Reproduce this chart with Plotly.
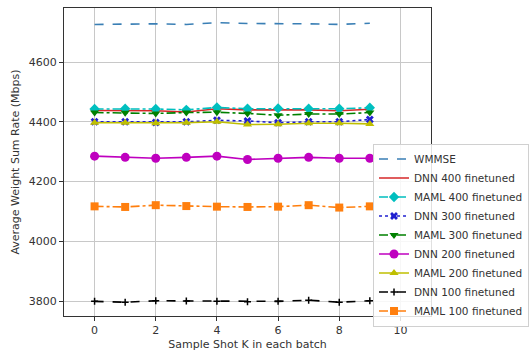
import plotly.graph_objects as go

k_values = list(range(10))

wmmse = [4726, 4728, 4728, 4726, 4732, 4729, 4729, 4728, 4726, 4730]
dnn_400 = [4438, 4437, 4437, 4433, 4444, 4440, 4440, 4440, 4437, 4442]
maml_400 = [4443, 4444, 4443, 4440, 4448, 4444, 4445, 4444, 4444, 4447]
dnn_300 = [4400, 4400, 4398, 4400, 4405, 4403, 4397, 4400, 4400, 4408]
maml_300 = [4431, 4430, 4428, 4431, 4432, 4428, 4422, 4426, 4426, 4431]
dnn_200 = [4285, 4281, 4278, 4281, 4285, 4274, 4278, 4281, 4278, 4278]
maml_200 = [4397, 4397, 4395, 4397, 4400, 4391, 4392, 4395, 4395, 4393]
dnn_100 = [3799, 3796, 3801, 3800, 3799, 3798, 3799, 3803, 3796, 3801]
maml_100 = [4117, 4115, 4121, 4118, 4116, 4115, 4116, 4121, 4113, 4117]

x_ticks = [0, 2, 4, 6, 8, 10]
y_ticks = [3800, 4000, 4200, 4400, 4600]

series = [
    ("WMMSE", wmmse, "#3a7fb5", "dash", None),
    ("DNN 400 finetuned", dnn_400, "#d62728", "solid", None),
    ("MAML 400 finetuned", maml_400, "#00bfbf", "dashdot", "diamond"),
    ("DNN 300 finetuned", dnn_300, "#2020d0", "dot", "x"),
    ("MAML 300 finetuned", maml_300, "#008000", "dashdot", "triangle-down"),
    ("DNN 200 finetuned", dnn_200, "#bf00bf", "solid", "circle"),
    ("MAML 200 finetuned", maml_200, "#bfbf00", "solid", "triangle-up"),
    ("DNN 100 finetuned", dnn_100, "#000000", "dash", "cross-thin"),
    ("MAML 100 finetuned", maml_100, "#ff7f0e", "dashdot", "square"),
]

fig = go.Figure()
for name, vals, color, dash, sym in series:
    if sym is None:
        mode = "lines"
        marker = None
    else:
        mode = "lines+markers"
        if sym == "cross-thin":
            marker = dict(symbol=sym, size=5, color=color, line=dict(width=1.5, color=color))
        elif sym == "x":
            marker = dict(symbol=sym, size=7, color=color, line=dict(width=0))
        else:
            marker = dict(symbol=sym, size=8 if sym != "circle" else 9, color=color, line=dict(width=0))
    fig.add_trace(go.Scatter(
        x=k_values, y=vals, name=name, mode=mode,
        line=dict(color=color, width=1.6, dash=dash),
        marker=marker,
    ))

axis_common = dict(
    showline=True, linecolor="#333333", linewidth=1, mirror=True,
    showgrid=True, gridcolor="#c8c8c8", gridwidth=1,
    ticks="outside", ticklen=4, tickcolor="#333333",
    zeroline=False, tickfont=dict(size=11, color="#333333"),
)

fig.update_layout(
    width=532, height=355,
    margin=dict(l=64, r=101, t=8, b=39, autoexpand=False),
    paper_bgcolor="white", plot_bgcolor="white",
    font=dict(family="DejaVu Sans", size=11, color="#333333"),
    xaxis=dict(range=[-1, 11], tickvals=x_ticks,
               title=dict(text="Sample Shot K in each batch", standoff=4, font=dict(size=11)),
               **axis_common),
    yaxis=dict(range=[3750, 4781], tickvals=y_ticks,
               title=dict(text="Average Weight Sum Rate (Mbps)", standoff=6, font=dict(size=11)),
               **axis_common),
    legend=dict(x=0.842, y=0.56, xanchor="left", yanchor="top",
                bgcolor="rgba(255,255,255,0.85)", bordercolor="#d0d0d0", borderwidth=1,
                font=dict(size=10.5, color="#333333"), tracegroupgap=0, itemwidth=30),
    showlegend=True,
)

fig.write_html("out.html")
